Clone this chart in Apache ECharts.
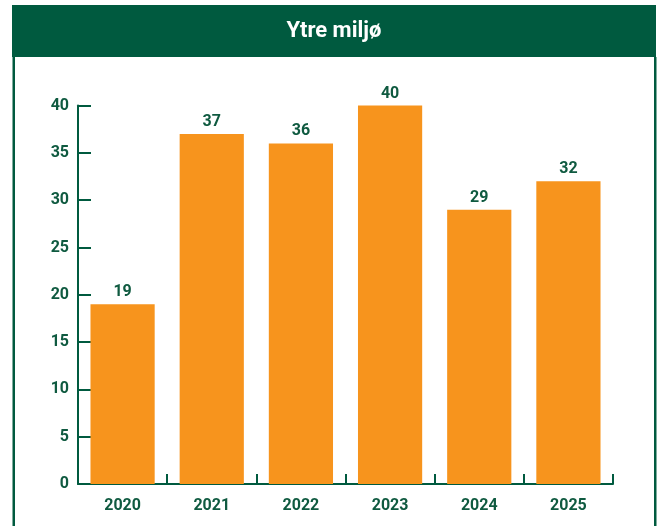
<!DOCTYPE html>
<html>
<head>
<meta charset="utf-8">
<style>
html,body{margin:0;padding:0;background:#fff;}
#chart{width:662px;height:526px;}
</style>
<script src="https://cdn.jsdelivr.net/npm/echarts@6/dist/echarts.min.js"></script>
</head>
<body>
<div id="chart"></div>
<script>
const titleText = 'Ytre miljø';
const categories = ['2020', '2021', '2022', '2023', '2024', '2025'];
const values = [19, 37, 36, 40, 29, 32];
const yTicks = [0, 5, 10, 15, 20, 25, 30, 35, 40];

const GREEN = '#005a3f';
const TEXT = '#0f5a40';
const ORANGE = '#f7941d';
const FONT = 'Roboto';

const chart = echarts.init(document.getElementById('chart'), null, {renderer: 'canvas'});
chart.setOption({
  backgroundColor: '#ffffff',
  animation: false,
  graphic: [
    {type: 'rect', shape: {x: 12, y: 5, width: 644, height: 52}, style: {fill: GREEN}, z: 10},
    {type: 'rect', shape: {x: 12.5, y: 57, width: 2.5, height: 480}, style: {fill: GREEN}, z: 10},
    {type: 'rect', shape: {x: 654, y: 57, width: 2.5, height: 480}, style: {fill: GREEN}, z: 10},
    {type: 'text', x: 334, y: 31, z: 11,
      style: {text: titleText, fill: '#ffffff', font: 'bold 22px ' + FONT, align: 'center', verticalAlign: 'middle'}}
  ],
  grid: {left: 78, right: 49, top: 105.6, bottom: 42, containLabel: false},
  xAxis: {
    type: 'category',
    data: categories,
    boundaryGap: true,
    axisLine: {show: true, lineStyle: {color: GREEN, width: 2}},
    axisTick: {show: true, inside: true, length: 10, lineStyle: {color: GREEN, width: 2}},
    axisLabel: {color: TEXT, fontFamily: FONT, fontWeight: 'bold', fontSize: 16, margin: 14}
  },
  yAxis: {
    type: 'value',
    min: yTicks[0],
    max: yTicks[yTicks.length - 1],
    interval: yTicks[1] - yTicks[0],
    axisLine: {show: true, lineStyle: {color: GREEN, width: 2}},
    axisTick: {show: true, inside: true, length: 13, lineStyle: {color: GREEN, width: 2}},
    splitLine: {show: false},
    axisLabel: {color: TEXT, fontFamily: FONT, fontWeight: 'bold', fontSize: 16, margin: 9, padding: [6, 0, 0, 0]}
  },
  series: [{
    type: 'bar',
    data: values,
    barCategoryGap: '28%',
    itemStyle: {color: ORANGE},
    label: {show: true, position: 'top', distance: 4, color: TEXT, fontFamily: FONT, fontWeight: 'bold', fontSize: 16}
  }]
});
</script>
</body>
</html>
